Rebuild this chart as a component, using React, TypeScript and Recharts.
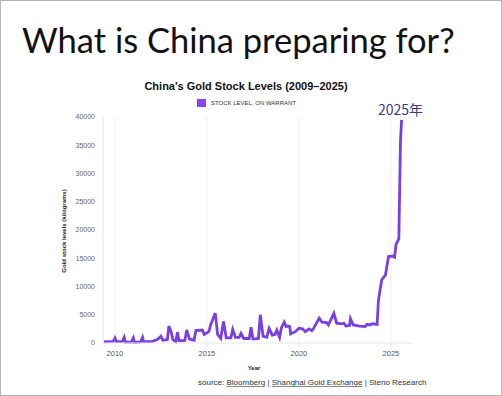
import React from "react";
import { LineChart, Line, XAxis, YAxis, CartesianGrid } from "recharts";

const years = [
  2009.4, 2009.6, 2009.9, 2010.0, 2010.08, 2010.4, 2010.5, 2010.56, 2010.9, 2011.0, 2011.06, 2011.4, 2011.5, 2011.56,
  2012.0, 2012.3, 2012.5, 2012.6, 2012.85, 2012.93, 2013.05, 2013.15, 2013.3, 2013.4, 2013.48, 2013.8, 2013.9, 2014.05,
  2014.3, 2014.4, 2014.75, 2014.85, 2015.1, 2015.2, 2015.45, 2015.58, 2015.75, 2015.9, 2016.05, 2016.3, 2016.4, 2016.55,
  2016.75, 2016.85, 2017.0, 2017.3, 2017.4, 2017.5, 2017.8, 2017.9, 2018.05, 2018.25, 2018.38, 2018.55, 2018.7, 2018.8,
  2018.95, 2019.05, 2019.2, 2019.3, 2019.4, 2019.5, 2019.55, 2019.8, 2020.0, 2020.2, 2020.35, 2020.55, 2020.7, 2020.8,
  2021.1, 2021.25, 2021.5, 2021.6, 2021.9, 2022.05, 2022.3, 2022.45, 2022.55, 2022.75, 2022.8, 2022.95, 2023.3, 2023.6,
  2023.7, 2023.85, 2024.0, 2024.25, 2024.32, 2024.38, 2024.5, 2024.7, 2024.87, 2025.1, 2025.2, 2025.28, 2025.43, 2025.52,
  2025.58,
];
const stock = [
  200, 250, 300, 900, 250, 300, 1000, 150, 150, 900, 100, 200, 1000, 250,
  250, 600, 1200, 500, 600, 3000, 2000, 600, 250, 1900, 400, 450, 2300, 700,
  500, 2200, 2300, 1500, 2000, 3200, 5300, 1500, 800, 3800, 900, 900, 2400, 1000,
  1000, 1700, 800, 800, 2800, 700, 800, 5000, 1200, 1000, 2600, 1400, 1500, 2300,
  1000, 2700, 3700, 2900, 3000, 2900, 1600, 2000, 2600, 2500, 2000, 2500, 2200, 2600,
  4400, 3700, 3600, 3200, 5250, 3500, 3400, 3500, 3000, 3100, 4300, 3200, 3000, 2900,
  3300, 3200, 3400, 3300, 7500, 8700, 11200, 12000, 15300, 15400, 15200, 17500, 18400, 35800,
  39500,
];
const xTicks = [2010, 2015, 2020, 2025];
const yTicks = [0, 5000, 10000, 15000, 20000, 25000, 30000, 35000, 40000];

const data = years.map((y, i) => ({ year: y, stock: stock[i] }));

const LINE = "#7b3fe0";

export default function App() {
  return (
    <div
      style={{
        position: "absolute",
        left: 0,
        top: 0,
        width: 502,
        height: 396,
        boxSizing: "border-box",
        border: "1px solid #b4b4b4",
        background: "#fff",
        overflow: "hidden",
      }}
    >
      <div
        style={{
          position: "absolute",
          left: 21,
          top: 18,
          fontFamily: "Lato",
          fontWeight: 400,
          fontSize: 34.5,
          color: "#111",
          whiteSpace: "nowrap",
          lineHeight: "42px",
        }}
      >
        What is China preparing for?
      </div>
      <div style={{ position: "absolute", left: -1, top: -1 }}>
        <LineChart
          width={502}
          height={396}
          data={data}
          margin={{ top: 117, right: 89, bottom: 23, left: 63 }}
        >
          <CartesianGrid horizontal={false} stroke="#eeeeee" verticalValues={xTicks} />
          <XAxis
            dataKey="year"
            type="number"
            domain={[2009.35, 2026.2]}
            ticks={xTicks}
            allowDataOverflow
            stroke="#e6e6e6"
            tickSize={4}
            tickMargin={4}
            tick={{ fill: "#555", fontSize: 7.5, fontFamily: "Liberation Sans" }}
          />
          <YAxis
            type="number"
            domain={[0, 40000]}
            ticks={yTicks}
            width={40}
            tickLine={false}
            stroke="#e6e6e6"
            tick={{ fill: "#666", fontSize: 7, fontFamily: "Liberation Sans" }}
          />
          <Line
            type="linear"
            dataKey="stock"
            stroke={LINE}
            strokeWidth={2.8}
            dot={false}
            isAnimationActive={false}
          />
        </LineChart>
      </div>
      <div
        style={{
          position: "absolute",
          left: 0,
          width: 490,
          top: 79,
          textAlign: "center",
          fontFamily: "Liberation Sans",
          fontWeight: "bold",
          fontSize: 11,
          color: "#111",
        }}
      >
        China's Gold Stock Levels (2009–2025)
      </div>
      <div
        style={{
          position: "absolute",
          left: 196,
          top: 98,
          display: "flex",
          alignItems: "center",
          fontFamily: "Liberation Sans",
          fontSize: 6,
          color: "#333",
          whiteSpace: "nowrap",
        }}
      >
        <span style={{ display: "inline-block", width: 9, height: 8, background: "#8a45ec", marginRight: 5 }} />
        STOCK LEVEL, ON WARRANT
      </div>
      <div
        style={{
          position: "absolute",
          left: 377,
          top: 99,
          fontFamily: "Noto Sans CJK SC",
          fontSize: 14,
          color: "#3a3a8a",
          whiteSpace: "nowrap",
          lineHeight: "18px",
        }}
      >
        2025年
      </div>
      <div
        style={{
          position: "absolute",
          left: 63 - 60,
          top: 230 - 5,
          width: 120,
          textAlign: "center",
          transform: "rotate(-90deg)",
          fontFamily: "Liberation Sans",
          fontWeight: "bold",
          fontSize: 6,
          color: "#222",
          whiteSpace: "nowrap",
          lineHeight: "10px",
        }}
      >
        Gold stock levels (kilograms)
      </div>
      <div
        style={{
          position: "absolute",
          left: 253 - 20,
          width: 40,
          top: 364,
          textAlign: "center",
          fontFamily: "Liberation Sans",
          fontWeight: "bold",
          fontSize: 6,
          color: "#222",
        }}
      >
        Year
      </div>
      <div
        style={{
          position: "absolute",
          left: 197,
          top: 377,
          fontFamily: "Liberation Sans",
          fontSize: 8,
          color: "#333",
          whiteSpace: "nowrap",
        }}
      >
        source: <span style={{ textDecoration: "underline", textDecorationColor: "#888" }}>Bloomberg</span> |{" "}
        <span style={{ textDecoration: "underline", textDecorationColor: "#888" }}>Shanghai Gold Exchange</span> | Steno
        Research
      </div>
    </div>
  );
}
